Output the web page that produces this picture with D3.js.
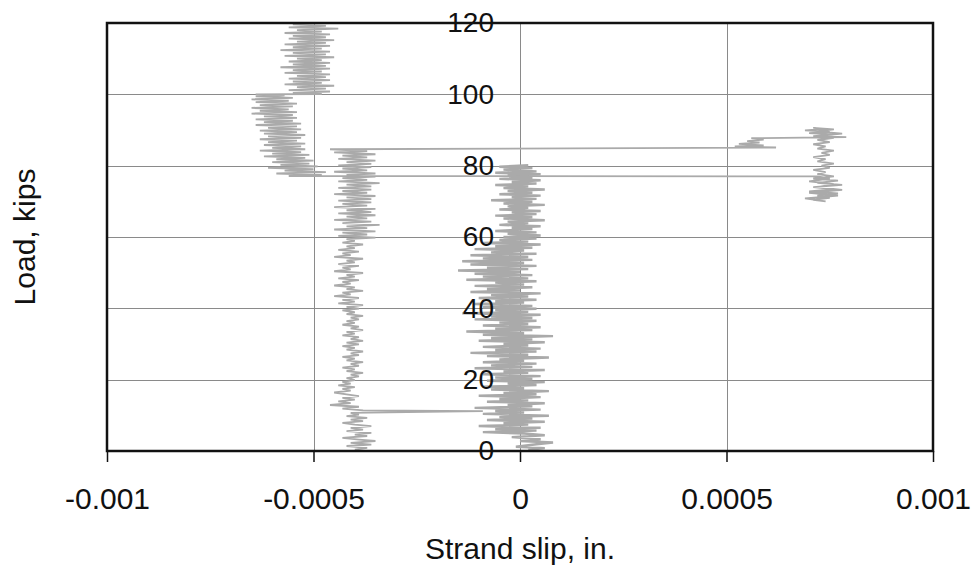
<!DOCTYPE html>
<html>
<head>
<meta charset="utf-8">
<script src="https://cdn.jsdelivr.net/npm/d3@7/dist/d3.min.js"></script>
<style>
  html, body { margin: 0; padding: 0; background: #fff; }
  svg { display: block; }
</style>
</head>
<body>
<svg id="chart" width="975" height="572"></svg>
<script>
// ---- Data: [load (kips), strand slip (x 1e-5 in.)] ----
const SLIP_UNIT = 1e-5;

// Gauge reading clustered near zero slip, load 0 -> 80 kips
const slipNearZero = [
[0.3,2],[0.8,6],[1.2,-1],[1.9,4],[2.4,8],[2.8,0],[3.3,5],[3.9,-2],[4.4,6],[4.9,1],
[5.3,-9],[5.7,4],[6.1,-6],[6.5,5],[7.0,-10],[7.4,2],[7.8,-4],[8.2,6],[8.7,-8],[9.1,3],
[9.5,-5],[9.9,7],[10.4,-9],[10.8,1],[11.2,-6],[11.6,5],[12.1,-11],[12.5,3],[12.9,-3],[13.4,6],
[13.8,-8],[14.2,2],[14.6,-5],[15.1,5],[15.5,-10],[15.9,4],[16.3,-4],[16.8,7],[17.2,-7],[17.6,1],
[18.0,-9],[18.5,4],[18.9,-3],[19.3,6],[19.7,-8],
[20.2,3],[20.6,-6],[21.0,5],[21.5,-9],[21.9,2],[22.3,-4],[22.7,6],[23.2,-11],[23.6,3],[24.0,-7],
[24.5,4],[24.9,-9],[25.3,1],[25.7,-5],[26.2,7],[26.6,-8],[27.0,2],[27.5,-12],[27.9,4],[28.3,-6],
[28.7,5],[29.2,-9],[29.6,2],[30.0,-4],[30.5,6],[30.9,-10],[31.3,3],[31.7,-7],[32.2,8],[32.6,-9],
[33.0,1],[33.5,-13],[33.9,3],[34.3,-6],[34.7,5],[35.2,-9],[35.6,2],[36.0,-5],[36.5,4],[36.9,-11],
[37.3,3],[37.7,-7],[38.2,5],[38.6,-14],[39.0,2],[39.5,-6],[39.9,4],
[40.3,-9],[40.7,3],[41.2,-11],[41.6,1],[42.0,-6],[42.4,4],[42.9,-10],[43.3,2],[43.7,-7],[44.2,5],
[44.6,-12],[45.0,0],[45.4,-8],[45.9,3],[46.3,-11],[46.7,1],[47.2,-6],[47.6,4],[48.0,-13],[48.4,2],
[48.9,-9],[49.3,3],[49.7,-11],[50.2,0],[50.6,-15],[51.0,2],[51.4,-8],[51.9,4],[52.3,-12],[52.7,1],
[53.2,-14],[53.6,3],[54.0,-9],[54.4,2],[54.9,-12],[55.3,4],[55.7,-7],[56.2,1],[56.6,-11],[57.0,3],
[57.4,-6],[57.9,5],[58.3,-9],[58.7,2],[59.2,-5],[59.6,4],
[60.0,-4],[60.4,5],[60.9,-3],[61.3,4],[61.7,-6],[62.2,3],[62.6,-2],[63.0,5],[63.4,-5],[63.9,2],
[64.3,-3],[64.7,6],[65.2,-4],[65.6,3],[66.0,-6],[66.4,4],[66.9,-2],[67.3,5],[67.7,-5],[68.2,2],
[68.6,-3],[69.0,6],[69.4,-4],[69.9,3],[70.3,-7],[70.7,4],[71.2,-2],[71.6,5],[72.0,-5],[72.4,3],
[72.9,-3],[73.3,6],[73.7,-4],[74.2,2],[74.6,-6],[75.0,4],[75.4,-2],[75.9,5],[76.3,-5],[76.7,3],
[77.2,-3],[77.6,5],[78.0,-6],[78.4,4],[78.9,-4],[79.3,3],[79.7,-5],[80.1,2]
];

// Second trace: near -0.0004 in., load 0 -> 85 kips
const slipTraceB = [
[0.4,-40],[0.9,-37],[1.4,-42],[1.8,-36],[2.3,-41],[2.8,-35],[3.2,-39],[3.7,-43],[4.2,-37],[4.6,-40],
[5.1,-36],[5.6,-42],[6.0,-38],[6.5,-41],[7.0,-36],[7.4,-40],[7.9,-43],[8.4,-38],[8.8,-41],[9.3,-37],
[9.8,-42],[10.2,-39],[10.7,-41],[11.2,-9],[11.4,-38],
[11.9,-43],[12.4,-39],[12.9,-46],[13.4,-41],[13.9,-44],[14.4,-40],[14.9,-43],[15.4,-39],[15.9,-42],[16.4,-45],
[16.9,-41],[17.4,-43],[17.9,-40],[18.4,-44],[18.9,-41],[19.4,-43],[19.9,-40],
[20.4,-42],[20.9,-39],[21.4,-41],[21.9,-38],[22.4,-42],[22.9,-40],[23.4,-43],[23.9,-39],[24.4,-41],[24.9,-38],
[25.4,-42],[25.9,-40],[26.4,-43],[26.9,-39],[27.4,-41],[27.9,-38],[28.4,-42],[28.9,-40],[29.4,-43],[29.9,-39],
[30.4,-42],[30.9,-38],[31.4,-41],[31.9,-39],[32.4,-43],[32.9,-40],[33.4,-42],[33.9,-38],[34.4,-41],[34.9,-39],
[35.4,-43],[35.9,-40],[36.4,-42],[36.9,-39],[37.4,-41],[37.9,-38],[38.4,-42],[38.9,-40],[39.4,-43],[39.9,-39],
[40.4,-42],[40.9,-38],[41.4,-44],[41.9,-40],[42.4,-43],[42.9,-39],[43.4,-45],[43.9,-41],[44.4,-43],[44.9,-38],
[45.4,-42],[45.9,-40],[46.4,-45],[46.9,-41],[47.4,-43],[47.9,-39],[48.4,-44],[48.9,-40],[49.4,-42],[49.9,-38],
[50.4,-45],[50.9,-41],[51.4,-43],[51.9,-39],[52.4,-44],[52.9,-40],[53.4,-42],[53.9,-38],[54.4,-45],[54.9,-41],
[55.4,-43],[55.9,-39],[56.4,-44],[56.9,-40],[57.4,-42],[57.9,-38],[58.4,-43],[58.9,-40],
[59.4,-42],[59.8,-35],[60.3,-44],[60.7,-37],[61.2,-43],[61.6,-35],[62.1,-45],[62.5,-37],[63.0,-42],[63.4,-34],
[63.9,-43],[64.3,-36],[64.8,-45],[65.2,-37],[65.7,-42],[66.1,-35],[66.6,-44],[67.0,-36],[67.5,-42],[67.9,-35],
[68.4,-45],[68.8,-37],[69.3,-43],[69.7,-36],[70.2,-44],[70.6,-36],[71.1,-42],[71.5,-35],[72.0,-45],[72.4,-37],
[72.9,-43],[73.3,-36],[73.8,-44],[74.2,-36],[74.7,-42],[75.1,-34],[75.6,-44],[76.0,-37],[76.5,-43],[76.9,-35],
[77.4,-42],[77.8,-35],[78.3,-45],[78.7,-37],[79.2,-43],[79.6,-36],[80.1,-44],[80.5,-36],[81.0,-42],[81.4,-35],
[81.9,-44],[82.3,-37],[82.8,-43],[83.2,-35],[83.7,-45],[84.1,-37],[84.6,-46]
];

// Jump to positive slip, cluster near +0.00073 in., load 70 -> 90 kips
const slipTraceE = [
[85.1,62],[85.4,52],[85.7,59],[86.1,53],[86.5,58],[86.9,55],[87.3,59],[87.7,56],[88.0,79],
[88.3,71],[88.7,76],[89.1,70],[89.5,75],[89.9,69],[90.3,74],[90.6,71],
[90.2,76],[89.6,72],[89.0,78],[88.4,73],[87.8,76],[87.2,72],[86.6,75],[86.0,71],[85.4,74],[84.8,72],
[84.2,76],[83.6,73],[83.0,75],[82.4,71],[81.8,74],[81.2,72],[80.6,76],[80.0,73],[79.4,75],[78.8,71],
[78.2,74],[77.6,72],[77.0,76],[76.4,71],[75.8,77],[75.2,72],[74.6,78],[74.0,71],[73.4,76],[72.8,70],
[72.2,77],[71.6,72],[71.0,75],[70.4,71],[70.0,74],
[70.8,69],[71.6,77],[72.4,70],[73.2,78],[74.0,72],[74.8,76],[75.6,70],[76.4,75],[77.0,72]
];

// Jump back to about -0.00057 in., load 77 -> 100 kips
const slipTraceC = [
[77.1,-56],
[77.4,-48],[77.8,-59],[78.2,-47],[78.6,-57],[79.0,-50],[79.4,-61],[79.8,-49],[80.2,-58],[80.6,-51],[81.0,-60],
[81.4,-50],[81.8,-59],[82.2,-52],[82.6,-62],[83.0,-51],[83.4,-60],[83.8,-53],[84.2,-63],[84.6,-52],[85.0,-60],
[85.4,-53],[85.8,-62],[86.2,-52],[86.6,-61],[87.0,-54],[87.4,-63],[87.8,-53],[88.2,-61],[88.6,-52],[89.0,-62],
[89.4,-54],[89.8,-63],[90.2,-53],[90.6,-61],[91.0,-54],[91.4,-64],[91.8,-53],[92.2,-62],[92.6,-55],[93.0,-64],
[93.4,-54],[93.8,-62],[94.2,-55],[94.6,-65],[95.0,-54],[95.4,-63],[95.8,-56],[96.2,-65],[96.6,-55],[97.0,-63],
[97.4,-54],[97.8,-64],[98.2,-56],[98.6,-65],[99.0,-55],[99.4,-64],[99.7,-57],[100.0,-64]
];

// Near -0.0005 in., load 100 -> 120 kips
const slipTraceD = [
[100.1,-48],
[100.4,-55],[100.8,-46],[101.2,-56],[101.6,-47],[102.0,-54],[102.4,-45],[102.8,-57],[103.2,-48],[103.6,-55],[104.0,-46],
[104.4,-56],[104.8,-47],[105.2,-54],[105.6,-46],[106.0,-57],[106.4,-48],[106.8,-55],[107.2,-46],[107.6,-58],[108.0,-47],
[108.4,-55],[108.8,-46],[109.2,-56],[109.6,-48],[110.0,-54],[110.4,-45],[110.8,-57],[111.2,-47],[111.6,-55],[112.0,-46],
[112.4,-58],[112.8,-48],[113.2,-55],[113.6,-46],[114.0,-57],[114.4,-47],[114.8,-54],[115.2,-45],[115.6,-56],[116.0,-47],
[116.4,-55],[116.8,-46],[117.2,-57],[117.6,-48],[118.0,-54],[118.4,-44],[118.8,-56],[119.2,-47],[119.6,-55],[120.0,-46]
];

// Axes
const xDomain = [-0.001, 0.001];
const yDomain = [0, 120];
const xTickValues = [-0.001, -0.0005, 0, 0.0005, 0.001];
const xTickLabels = ["-0.001", "-0.0005", "0", "0.0005", "0.001"];
const yTickValues = [0, 20, 40, 60, 80, 100, 120];
const xTitle = "Strand slip, in.";
const yTitle = "Load, kips";

// ---- Layout ----
const W = 975, H = 572;
const margin = { top: 23, right: 42, bottom: 121, left: 107 };
const FONT = "'Liberation Sans', Arial, Helvetica, sans-serif";

const svg = d3.select("#chart");
svg.append("rect").attr("width", W).attr("height", H).attr("fill", "#fff");

const x = d3.scaleLinear().domain(xDomain).range([margin.left, W - margin.right]);
const y = d3.scaleLinear().domain(yDomain).range([H - margin.bottom, margin.top]);

// Gridlines
const grid = svg.append("g").attr("stroke", "#8a8a8a").attr("stroke-width", 1);
grid.selectAll("line.h").data(yTickValues.filter(v => v > yDomain[0] && v < yDomain[1]))
  .join("line").attr("class", "h")
  .attr("x1", x(xDomain[0])).attr("x2", x(xDomain[1]))
  .attr("y1", d => Math.round(y(d)) + 0.5).attr("y2", d => Math.round(y(d)) + 0.5);
grid.selectAll("line.v").data(xTickValues.filter(v => v > xDomain[0] && v < xDomain[1]))
  .join("line").attr("class", "v")
  .attr("y1", y(yDomain[0])).attr("y2", y(yDomain[1]))
  .attr("x1", d => Math.round(x(d)) + 0.5).attr("x2", d => Math.round(x(d)) + 0.5);

// Data traces
const line = d3.line()
  .x(d => x(d[1] * SLIP_UNIT))
  .y(d => y(d[0]));

const traces = [
  { pts: slipNearZero, w: 2.4 },
  { pts: slipTraceB.concat(slipTraceE, slipTraceC, slipTraceD), w: 1.8 }
];
svg.append("g").selectAll("path").data(traces).join("path")
  .attr("d", d => line(d.pts))
  .attr("fill", "none")
  .attr("stroke", "#aaaaaa")
  .attr("stroke-width", d => d.w)
  .attr("stroke-linejoin", "miter");

// Plot border
const border = svg.append("g").attr("stroke", "#111").attr("stroke-width", 2.5).attr("fill", "none");
border.append("rect")
  .attr("x", x(xDomain[0])).attr("y", y(yDomain[1]))
  .attr("width", x(xDomain[1]) - x(xDomain[0]))
  .attr("height", y(yDomain[0]) - y(yDomain[1]));

// X axis (ticks below bottom border)
const xAxis = d3.axisBottom(x)
  .tickValues(xTickValues)
  .tickFormat((d, i) => xTickLabels[i])
  .tickSize(11)
  .tickPadding(26);
const gx = svg.append("g")
  .attr("transform", `translate(0,${y(yDomain[0])})`)
  .call(xAxis);
gx.select(".domain").remove();
gx.selectAll(".tick line").attr("stroke", "#111").attr("stroke-width", 1.5);
gx.selectAll("text").attr("font-family", FONT).attr("font-size", 30).attr("fill", "#111");

// Y axis crossing at slip = 0, labels overlaying the plot
const yAxis = d3.axisLeft(y)
  .tickValues(yTickValues)
  .tickFormat(d3.format("d"))
  .tickSize(0)
  .tickPadding(26);
const gy = svg.append("g")
  .attr("transform", `translate(${x(0)},0)`)
  .call(yAxis);
gy.select(".domain").remove();
gy.selectAll("text").attr("font-family", FONT).attr("font-size", 28).attr("fill", "#111");

// Titles
svg.append("text")
  .attr("x", x(0)).attr("y", 559)
  .attr("text-anchor", "middle")
  .attr("font-family", FONT).attr("font-size", 30).attr("fill", "#111")
  .text(xTitle);
svg.append("text")
  .attr("transform", `translate(35,${(y(yDomain[0]) + y(yDomain[1])) / 2}) rotate(-90)`)
  .attr("text-anchor", "middle")
  .attr("font-family", FONT).attr("font-size", 30).attr("fill", "#111")
  .text(yTitle);
</script>
</body>
</html>
